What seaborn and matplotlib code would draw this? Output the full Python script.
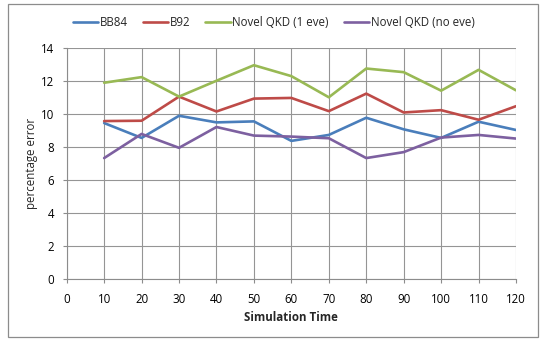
import matplotlib
matplotlib.use("Agg")
import matplotlib.pyplot as plt
import seaborn as sns
import pandas as pd
from matplotlib.patches import Rectangle

times = [10, 20, 30, 40, 50, 60, 70, 80, 90, 100, 110, 120]
bb84 = [9.44, 8.54, 9.88, 9.48, 9.54, 8.36, 8.72, 9.76, 9.06, 8.54, 9.52, 9.02]
b92 = [9.56, 9.58, 11.04, 10.14, 10.92, 10.96, 10.16, 11.22, 10.08, 10.22, 9.64, 10.46]
novel_1eve = [11.88, 12.22, 11.04, 12.0, 12.94, 12.28, 11.0, 12.74, 12.52, 11.4, 12.66, 11.42]
novel_noeve = [7.32, 8.78, 7.94, 9.2, 8.68, 8.62, 8.52, 7.32, 7.68, 8.56, 8.72, 8.5]
series_names = ["BB84", "B92", "Novel QKD (1 eve)", "Novel QKD (no eve)"]
colors = ["#4A7EBB", "#BE4B48", "#98B954", "#7D60A0"]
x_ticks = list(range(0, 121, 10))
y_ticks = list(range(0, 15, 2))

rows = []
for name, vals in zip(series_names, [bb84, b92, novel_1eve, novel_noeve]):
    for t, v in zip(times, vals):
        rows.append({"Simulation Time": t, "percentage error": v, "series": name})
df = pd.DataFrame(rows)

sns.set_theme(style="white")
plt.rcParams["font.family"] = ["Open Sans", "DejaVu Sans"]

fs = 8.3
fig = plt.figure(figsize=(5.45, 3.42), dpi=100)
ax = fig.add_axes([0.1224, 0.1842, 0.9468 - 0.1224, 0.8605 - 0.1842])

sns.lineplot(data=df, x="Simulation Time", y="percentage error", hue="series",
             hue_order=series_names, palette=colors, linewidth=1.9, ax=ax,
             legend=True)

ax.set_xlim(0, 120)
ax.set_ylim(0, 14)
ax.set_xticks(x_ticks)
ax.set_yticks(y_ticks)
ax.grid(True, color="#959595", linewidth=0.8)
ax.set_axisbelow(True)
for s in ["top", "right"]:
    ax.spines[s].set_visible(False)
for s in ["left", "bottom"]:
    ax.spines[s].set_color("#8c8c8c")
    ax.spines[s].set_linewidth(0.8)
ax.tick_params(axis="both", which="major", length=3, width=0.8, color="#8c8c8c",
               labelsize=fs, labelcolor="#000000", direction="out",
               bottom=True, left=True)
ax.tick_params(axis="x", pad=7)
ax.tick_params(axis="y", pad=6)
ax.set_xlabel("Simulation Time", fontsize=fs, fontweight="bold", labelpad=4)
ax.set_ylabel("percentage error", fontsize=fs, labelpad=2)

handles, labels = ax.get_legend_handles_labels()
ax.get_legend().remove()
fig.legend(handles, labels, loc="center", bbox_to_anchor=(0.502, 0.934), ncol=4,
           frameon=False, fontsize=fs, handlelength=2.2, handletextpad=0.15,
           columnspacing=1.3)

fig.patches.append(Rectangle((8 / 545, 1 - 336.7 / 342), (537.7 - 8) / 545, (336.7 - 4) / 342,
                             transform=fig.transFigure, fill=False,
                             edgecolor="#8c8c8c", linewidth=0.9))

fig.savefig("out.png", dpi=100)
